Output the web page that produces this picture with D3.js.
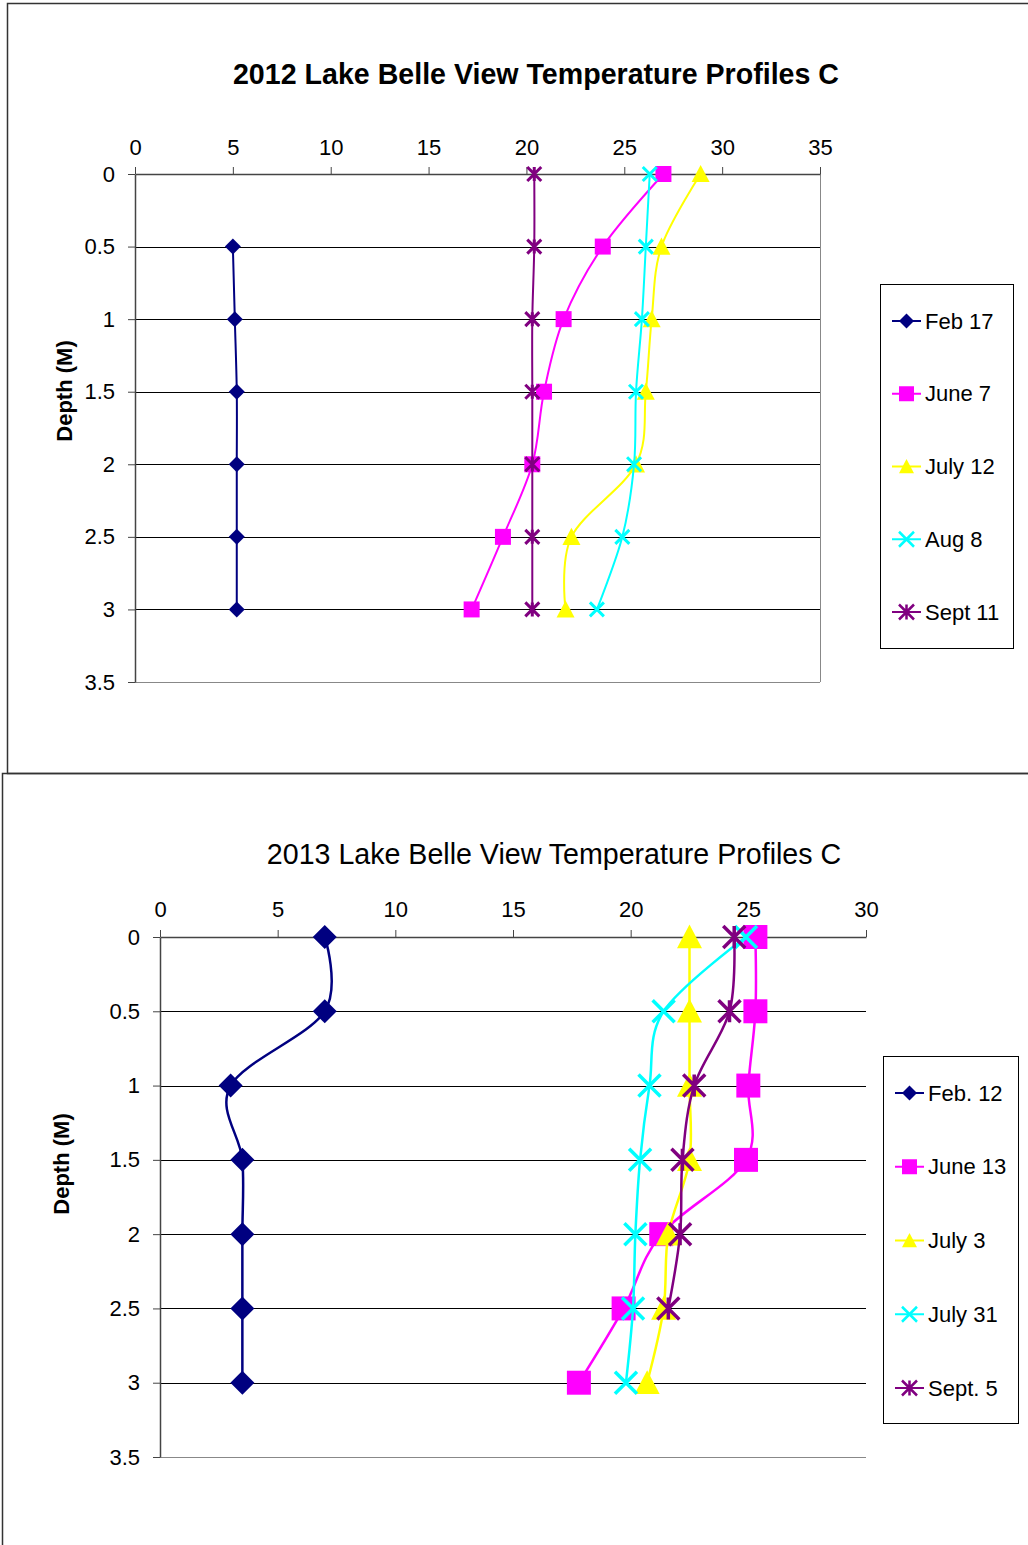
<!DOCTYPE html>
<html lang="en">
<head>
<meta charset="utf-8">
<style>
  body { margin: 0; background: white; }
  svg { font-family: "Liberation Sans", Arial, sans-serif; display: block; }
  .axis text { fill: #000; }
  .axis path, .axis line { stroke: #444; }
</style>
</head>
<body>
<svg width="1028" height="1545"></svg>
<script src="https://cdn.jsdelivr.net/npm/d3@7"></script>
<script>
// depth readings (m)
const depths = [0, 0.5, 1, 1.5, 2, 2.5, 3];
const depthTicks = [0, 0.5, 1, 1.5, 2, 2.5, 3, 3.5];

// 2012 profiles, temperature C at each depth
const labels2012 = ["Feb 17", "June 7", "July 12", "Aug 8", "Sept 11"];
const feb17 = [null, 5.0, 5.1, 5.2, 5.2, 5.2, 5.2];
const june7 = [27.0, 23.9, 21.9, 20.9, 20.3, 18.8, 17.2];
const july12 = [28.9, 26.9, 26.4, 26.1, 25.6, 22.3, 22.0];
const aug8 = [26.3, 26.1, 25.9, 25.6, 25.5, 24.9, 23.6];
const sept11 = [20.4, 20.4, 20.3, 20.3, 20.3, 20.3, 20.3];
const tempTicks2012 = [0, 5, 10, 15, 20, 25, 30, 35];

// 2013 profiles
const labels2013 = ["Feb. 12", "June 13", "July 3", "July 31", "Sept. 5"];
const feb12 = [7.0, 7.0, 3.0, 3.5, 3.5, 3.5, 3.5];
const june13 = [25.3, 25.3, 25.0, 24.9, 21.3, 19.7, 17.8];
const july3 = [22.5, 22.5, 22.5, 22.5, 21.6, 21.4, 20.7];
const july31 = [24.9, 21.4, 20.8, 20.4, 20.2, 20.1, 19.8];
const sept5 = [24.4, 24.2, 22.7, 22.2, 22.1, 21.6, null];
const tempTicks2013 = [0, 5, 10, 15, 20, 25, 30];

const colors = ["#000080", "#FF00FF", "#FFFF00", "#00FFFF", "#800080"];
const markers = ["diamond", "square", "triangle", "x", "star"];

const svg = d3.select("svg");

// outer chart frames
svg.append("rect").attr("x", 7.5).attr("y", 3.5).attr("width", 1040).attr("height", 770)
  .attr("fill", "none").attr("stroke", "#333").attr("stroke-width", 1.5);
svg.append("rect").attr("x", 2.5).attr("y", 773.5).attr("width", 1040).attr("height", 800)
  .attr("fill", "none").attr("stroke", "#333").attr("stroke-width", 1.5);

function markerPath(type, s) {
  switch (type) {
    case "diamond": return `M0,${-s}L${s},0L0,${s}L${-s},0Z`;
    case "square": return `M${-s},${-s}h${2 * s}v${2 * s}h${-2 * s}Z`;
    case "triangle": return `M0,${-s}L${s},${s * 0.9}L${-s},${s * 0.9}Z`;
    case "x": return `M${-s},${-s}L${s},${s}M${-s},${s}L${s},${-s}`;
    case "star": return `M${-s},${-s}L${s},${s}M${-s},${s}L${s},${-s}M0,${-s}L0,${s}`;
  }
}

function drawMarker(g, type, color, s, sw) {
  const open = type === "x" || type === "star";
  g.append("path")
    .attr("d", markerPath(type, s))
    .attr("fill", open ? "none" : color)
    .attr("stroke", open ? color : "none")
    .attr("stroke-width", open ? sw : 0);
}

function drawChart(cfg) {
  const g = svg.append("g");
  const x = d3.scaleLinear().domain([0, cfg.xMax]).range([cfg.left, cfg.right]);
  const y = d3.scaleLinear().domain([0, 3.5]).range([cfg.top, cfg.bottom]);

  // title
  g.append("text")
    .attr("x", cfg.titleX).attr("y", cfg.titleY)
    .attr("text-anchor", "middle")
    .attr("font-size", 28.6)
    .attr("font-weight", cfg.titleBold ? "bold" : "normal")
    .text(cfg.title);

  // horizontal gridlines
  g.append("g").selectAll("line")
    .data(depthTicks.slice(1))
    .join("line")
    .attr("x1", cfg.left).attr("x2", cfg.right)
    .attr("y1", d => Math.round(y(d)) + 0.5).attr("y2", d => Math.round(y(d)) + 0.5)
    .attr("stroke", d => d === 3.5 ? "#888" : "#000")
    .attr("stroke-width", 1);

  if (cfg.rightBorder) {
    g.append("line")
      .attr("x1", cfg.right + 0.5).attr("x2", cfg.right + 0.5)
      .attr("y1", cfg.top).attr("y2", cfg.bottom)
      .attr("stroke", "#888");
  }

  const xAxis = d3.axisTop(x).tickValues(cfg.xTicks).tickSize(7).tickSizeOuter(0).tickPadding(cfg.xPad);
  const yAxis = d3.axisLeft(y).tickValues(depthTicks).tickSize(7).tickSizeOuter(0).tickPadding(13)
    .tickFormat(d3.format(""));

  g.append("g").attr("class", "axis")
    .attr("transform", `translate(0,${cfg.top})`)
    .call(xAxis)
    .call(a => a.selectAll("text").attr("font-size", 22).attr("font-family", null))
    .call(a => a.select(".domain").attr("stroke-width", 1.5));

  g.append("g").attr("class", "axis")
    .attr("transform", `translate(${cfg.left},0)`)
    .call(yAxis)
    .call(a => a.selectAll("text").attr("font-size", 22).attr("font-family", null))
    .call(a => a.select(".domain").attr("stroke-width", 1.5));

  g.append("text")
    .attr("transform", `translate(${cfg.ylabX},${cfg.ylabY}) rotate(-90)`)
    .attr("text-anchor", "middle")
    .attr("font-size", 22).attr("font-weight", "bold")
    .text("Depth (M)");

  const line = d3.line()
    .defined(d => d.t != null)
    .x(d => x(d.t)).y(d => y(d.depth))
    .curve(d3.curveCatmullRom.alpha(0));

  cfg.series.forEach((vals, i) => {
    const pts = depths.map((dp, j) => ({ depth: dp, t: vals[j] }));
    const sg = g.append("g");
    sg.append("path")
      .datum(pts)
      .attr("d", line)
      .attr("fill", "none")
      .attr("stroke", colors[i])
      .attr("stroke-width", cfg.lineWidth);
    pts.filter(p => p.t != null).forEach(p => {
      const mg = sg.append("g").attr("transform", `translate(${x(p.t)},${y(p.depth)})`);
      drawMarker(mg, markers[i], colors[i], cfg.markerSize[i], cfg.lineWidth + 1);
    });
  });

  // legend
  const lg = g.append("g");
  lg.append("rect")
    .attr("x", cfg.legend.x + 0.5).attr("y", cfg.legend.y + 0.5)
    .attr("width", cfg.legend.w).attr("height", cfg.legend.h)
    .attr("fill", "white").attr("stroke", "#000");
  cfg.labels.forEach((name, i) => {
    const ly = cfg.legend.first + i * cfg.legend.step;
    const lx = cfg.legend.x + 12;
    lg.append("line")
      .attr("x1", lx).attr("x2", lx + 29).attr("y1", ly).attr("y2", ly)
      .attr("stroke", colors[i]).attr("stroke-width", 2);
    const mg = lg.append("g").attr("transform", `translate(${lx + 14.5},${ly})`);
    drawMarker(mg, markers[i], colors[i], 7.5, 2.5);
    lg.append("text")
      .attr("x", lx + 33).attr("y", ly).attr("dy", "0.35em")
      .attr("font-size", 22)
      .text(name);
  });
}

drawChart({
  title: "2012 Lake Belle View Temperature Profiles C", titleBold: true,
  titleX: 536, titleY: 84,
  left: 135, right: 820, top: 174, bottom: 682, xMax: 35, xTicks: tempTicks2012, xPad: 12,
  ylabX: 72, ylabY: 391, rightBorder: true,
  series: [feb17, june7, july12, aug8, sept11], labels: labels2012,
  lineWidth: 2, markerSize: [8, 8, 9, 7, 7],
  legend: { x: 880, y: 284, w: 133, h: 364, first: 321, step: 72.75 }
});

drawChart({
  title: "2013 Lake Belle View Temperature Profiles C", titleBold: false,
  titleX: 554, titleY: 864,
  left: 160, right: 866, top: 937, bottom: 1457, xMax: 30, xTicks: tempTicks2013, xPad: 13,
  ylabX: 69, ylabY: 1164, rightBorder: false,
  series: [feb12, june13, july3, july31, sept5], labels: labels2013,
  lineWidth: 2.5, markerSize: [12, 12, 12.5, 11, 11],
  legend: { x: 883, y: 1056, w: 135, h: 367, first: 1093, step: 73.75 }
});
</script>
</body>
</html>
